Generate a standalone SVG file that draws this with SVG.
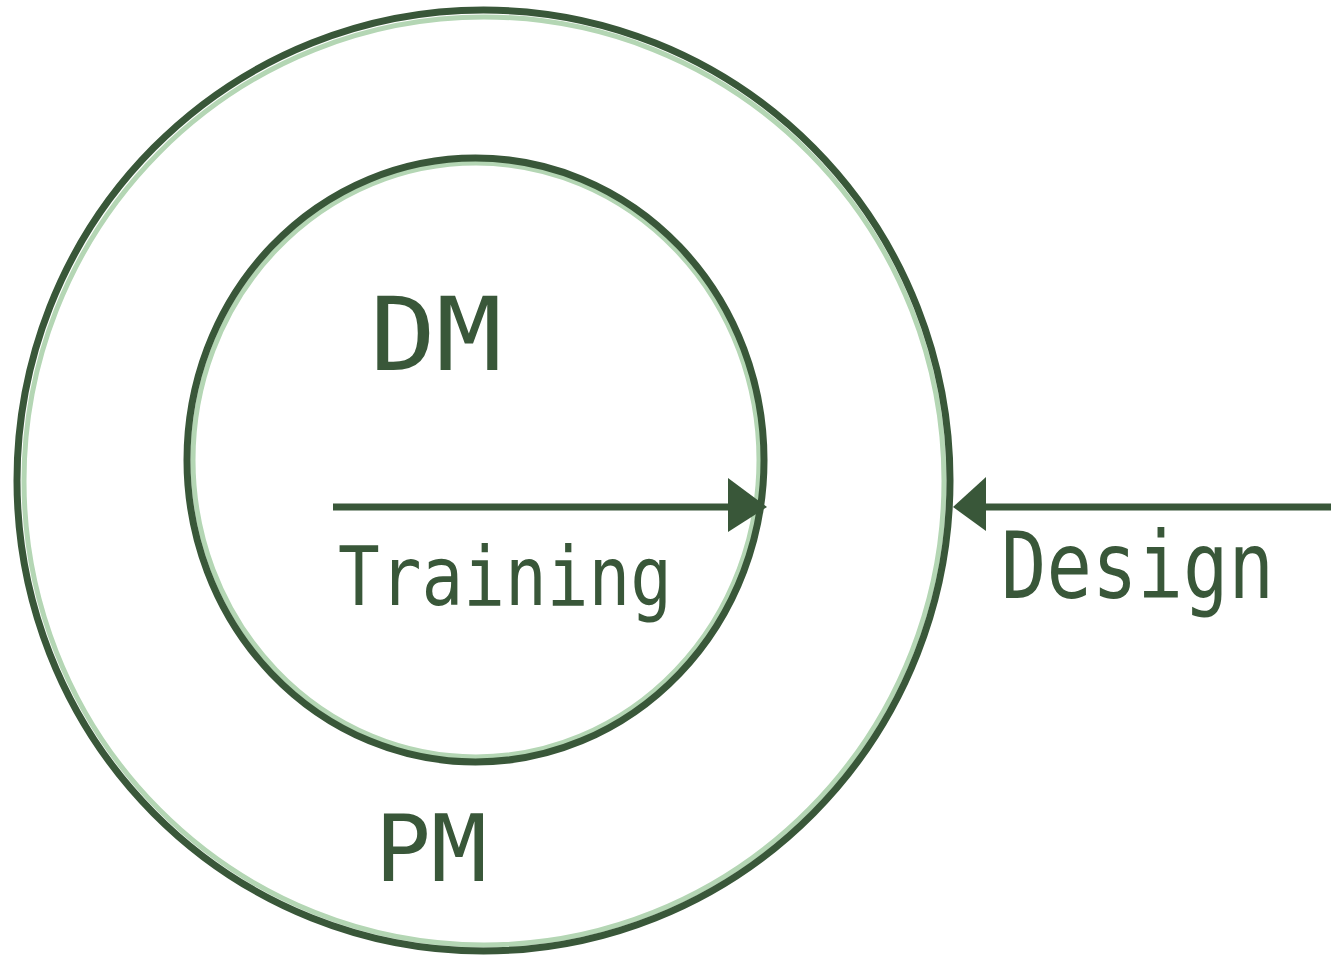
<svg xmlns="http://www.w3.org/2000/svg" width="1331" height="956" viewBox="0 0 1331 956">
<style>
.ring{fill:none;stroke:#395739;stroke-width:7}
.halo{fill:none;stroke:#b4d6b4;stroke-width:5}
.lbl{font-family:"DejaVu Sans Mono","Liberation Mono",monospace;fill:#395739}
.line{stroke:#395739;stroke-width:7;fill:none}
.head{fill:#395739}
</style>
<rect width="1331" height="956" fill="#ffffff"/>
<g id="pm">
<ellipse class="halo" cx="484" cy="481" rx="460" ry="464"/>
<ellipse class="ring" cx="483.5" cy="480.5" rx="466.5" ry="470.5"/>
<text class="lbl" x="375" y="881" font-size="92" textLength="112" lengthAdjust="spacingAndGlyphs">PM</text>
</g>
<g id="dm">
<ellipse class="halo" cx="476" cy="460" rx="283" ry="297"/>
<ellipse class="ring" cx="475.5" cy="460" rx="288.5" ry="302"/>
<text class="lbl" x="370" y="370" font-size="101" textLength="132" lengthAdjust="spacingAndGlyphs">DM</text>
</g>
<g id="connectors">
<g id="training">
<line class="line" x1="333" y1="507" x2="732" y2="507"/>
<polygon class="head" points="728,478 767,507 728,532"/>
<text class="lbl" x="338" y="605" font-size="82" textLength="334" lengthAdjust="spacingAndGlyphs">Training</text>
</g>
<g id="design">
<line class="line" x1="982" y1="507" x2="1331" y2="507"/>
<polygon class="head" points="986,477 953,507 986,531"/>
<text class="lbl" x="1001" y="598" font-size="92" textLength="273" lengthAdjust="spacingAndGlyphs">Design</text>
</g>
</g>
</svg>
